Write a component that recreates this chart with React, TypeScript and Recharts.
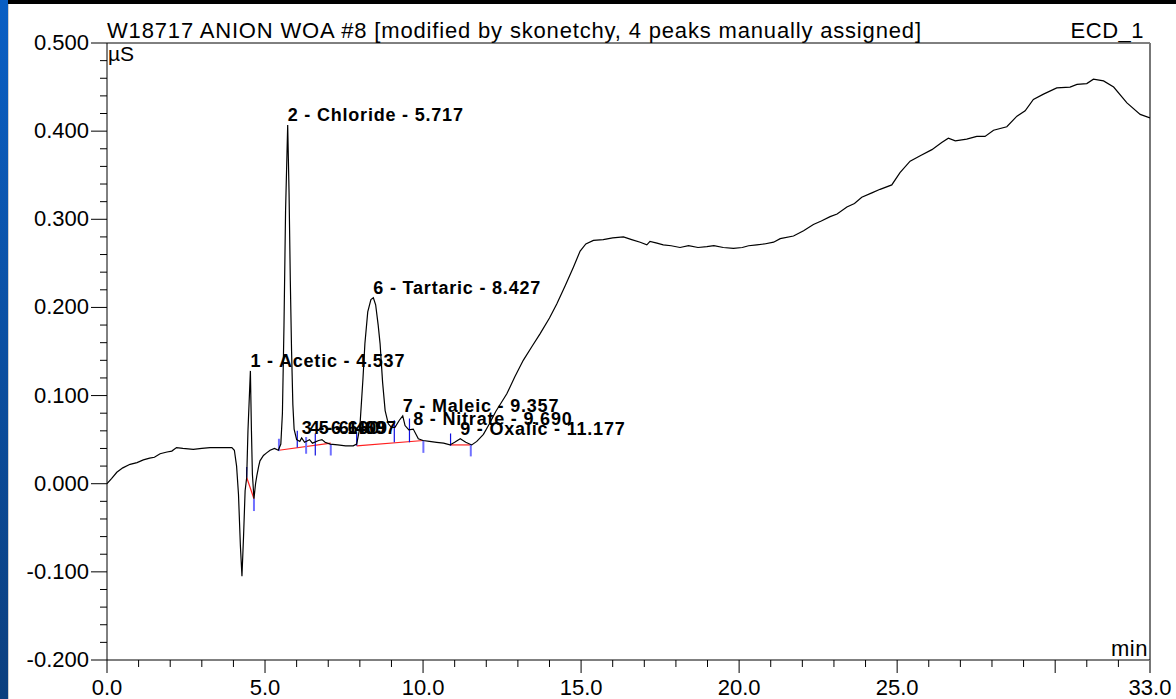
import React from "react";
import {
  ComposedChart,
  Line,
  Scatter,
  XAxis,
  YAxis,
  ReferenceLine,
} from "recharts";

// Chromatogram trace: retention time (min) and conductivity (µS)
const times: number[] = [
  0.0, 0.15, 0.31, 0.5, 0.73, 0.95, 1.15, 1.35, 1.5, 1.68, 1.9, 2.05, 2.2, 2.4, 2.73, 3.0, 3.26, 3.6, 3.95,
  4.03, 4.1, 4.16, 4.22, 4.27, 4.32, 4.37, 4.42, 4.46, 4.537, 4.57, 4.6, 4.65, 4.7, 4.74, 4.8, 4.84, 4.95,
  5.05, 5.16, 5.3, 5.42, 5.5, 5.55, 5.6, 5.65, 5.717, 5.76, 5.8, 5.84, 5.88, 5.92, 6.0, 6.1, 6.16, 6.25,
  6.409, 6.5, 6.697, 6.8, 6.9, 7.06, 7.3, 7.55, 7.79, 7.9, 8.0, 8.1, 8.16, 8.25, 8.35, 8.427, 8.5, 8.58, 8.64,
  8.72, 8.8, 8.9, 9.0, 9.11, 9.25, 9.357, 9.43, 9.55, 9.69, 9.85, 10.0, 10.2, 10.43, 10.65, 10.85, 11.0,
  11.177, 11.35, 11.54, 11.7, 11.91, 12.1, 12.3, 12.65, 12.9, 13.17, 13.45, 13.7, 14.0, 14.23, 14.5, 14.76,
  14.97, 15.15, 15.39, 15.7, 16.0, 16.34, 16.6, 16.87, 17.08, 17.18, 17.4, 17.6, 17.85, 18.13, 18.4, 18.7,
  18.98, 19.2, 19.5, 19.82, 20.1, 20.3, 20.56, 20.8, 21.09, 21.3, 21.72, 22.04, 22.35, 22.6, 22.88, 23.1,
  23.41, 23.65, 23.88, 24.2, 24.46, 24.83, 25.09, 25.41, 25.73, 26.1, 26.41, 26.62, 26.84, 27.2, 27.52,
  27.78, 28.05, 28.47, 28.79, 29.05, 29.31, 29.63, 30.05, 30.47, 30.69, 31.0, 31.21, 31.53, 31.85, 32.27,
  32.69, 33.0,
];
const signal: number[] = [
  0.0, 0.006, 0.013, 0.018, 0.022, 0.024, 0.027, 0.029, 0.03, 0.034, 0.036, 0.037, 0.041, 0.04, 0.039, 0.04,
  0.041, 0.041, 0.041, 0.038, 0.02, -0.012, -0.07, -0.105, -0.06, -0.008, 0.007, 0.06, 0.128, 0.06, 0.011,
  -0.017, 0.0, 0.009, 0.02, 0.026, 0.032, 0.035, 0.038, 0.04, 0.038, 0.045, 0.08, 0.18, 0.31, 0.407, 0.33,
  0.23, 0.15, 0.09, 0.062, 0.05, 0.048, 0.052, 0.047, 0.05, 0.046, 0.049, 0.05, 0.047, 0.045, 0.044, 0.043,
  0.043, 0.045, 0.064, 0.12, 0.159, 0.195, 0.209, 0.211, 0.203, 0.18, 0.159, 0.115, 0.083, 0.068, 0.064,
  0.064, 0.072, 0.077, 0.066, 0.061, 0.062, 0.051, 0.049, 0.048, 0.047, 0.046, 0.044, 0.047, 0.051, 0.047,
  0.044, 0.048, 0.056, 0.068, 0.082, 0.102, 0.121, 0.14, 0.156, 0.17, 0.188, 0.204, 0.225, 0.246, 0.264,
  0.272, 0.276, 0.277, 0.279, 0.28, 0.277, 0.274, 0.271, 0.275, 0.273, 0.271, 0.27, 0.268, 0.27, 0.268,
  0.269, 0.27, 0.268, 0.267, 0.268, 0.27, 0.271, 0.272, 0.274, 0.278, 0.281, 0.287, 0.294, 0.298, 0.303,
  0.306, 0.314, 0.318, 0.325, 0.33, 0.334, 0.339, 0.353, 0.366, 0.372, 0.379, 0.387, 0.392, 0.389, 0.391,
  0.394, 0.394, 0.401, 0.405, 0.417, 0.423, 0.436, 0.442, 0.449, 0.45, 0.453, 0.454, 0.459, 0.457, 0.45,
  0.432, 0.419, 0.415,
];

// Peak labels (retention time, apex value)
const peakTimes: number[] = [4.537, 5.717, 6.16, 6.409, 6.697, 8.427, 9.357, 9.69, 11.177];
const peakValues: number[] = [0.128, 0.407, 0.052, 0.052, 0.052, 0.211, 0.077, 0.062, 0.051];
const peakLabels: string[] = [
  "1 - Acetic - 4.537",
  "2 - Chloride - 5.717",
  "3 - 6.160",
  "4 - 6.409",
  "5 - 6.697",
  "6 - Tartaric - 8.427",
  "7 - Maleic - 9.357",
  "8 - Nitrate - 9.690",
  "9 - Oxalic - 11.177",
];

// Integration baselines
const baseStartT: number[] = [4.42, 5.44, 7.9, 10.87];
const baseStartV: number[] = [0.007, 0.038, 0.043, 0.044];
const baseEndT: number[] = [4.65, 7.08, 10.01, 11.51];
const baseEndV: number[] = [-0.017, 0.046, 0.049, 0.044];

// Peak delimiter marks
const markT: number[] = [4.42, 4.65, 5.44, 6.02, 6.3, 6.59, 7.08, 7.9, 9.09, 9.57, 10.01, 10.87, 11.51];
const markLow: number[] = [0.007, -0.031, 0.037, 0.041, 0.034, 0.032, 0.032, 0.043, 0.047, 0.047, 0.035, 0.043, 0.031];
const markHigh: number[] = [0.019, -0.017, 0.051, 0.06, 0.053, 0.057, 0.045, 0.057, 0.072, 0.074, 0.049, 0.057, 0.045];
const markKind: string[] = ["s", "e", "e", "s", "e", "s", "e", "s", "s", "s", "e", "s", "e"];

const xTicks: number[] = Array.from({ length: 34 }, (_, i) => i);
const xLabeled: number[] = [0, 5, 10, 15, 20, 25, 33];
const xMajor: number[] = [0, 5, 10, 15, 20, 25, 30, 33];
const yTicks: number[] = Array.from({ length: 36 }, (_, i) => Math.round(i * 2 - 20) / 100);

const TITLE = "W18717 ANION WOA #8 [modified by skonetchy, 4 peaks manually assigned]";
const CHANNEL = "ECD_1";
const Y_UNIT = "µS";
const X_UNIT = "min";

const curve = times.map((t, i) => ({ t, v: signal[i] }));
const peaks = peakTimes.map((t, i) => ({ t, v: peakValues[i], label: peakLabels[i] }));

const FONT = "'Liberation Sans', Arial, sans-serif";

const XTick = (props: any) => {
  const { x, y, payload } = props;
  const val = payload.value;
  const major = xMajor.includes(val);
  const labeled = xLabeled.includes(val);
  const isEnd = val === 33;
  return (
    <g>
      <line x1={x} y1={y} x2={x} y2={y + (major ? 13 : 7)} stroke={isEnd ? "#777" : "#000"} strokeWidth={isEnd ? 2 : 1} />
      {labeled && (
        <text x={x} y={y + 35} textAnchor="middle" fontSize={22} fontFamily={FONT} fill="#000">
          {val.toFixed(1)}
        </text>
      )}
    </g>
  );
};

const YTick = (props: any) => {
  const { x, y, payload } = props;
  const val = payload.value;
  const major = Math.abs(Math.round(val * 100) % 10) === 0;
  return (
    <g>
      <line x1={x - (major ? 16 : 7)} y1={y} x2={x} y2={y} stroke="#000" strokeWidth={1} />
      {major && (
        <text x={x - 18} y={y + 7} textAnchor="end" fontSize={22} fontFamily={FONT} fill="#000">
          {val.toFixed(3)}
        </text>
      )}
    </g>
  );
};

const PeakLabel = (props: any) => {
  const { cx, cy, payload } = props;
  return (
    <text x={cx} y={cy - 4} fontSize={18} fontWeight="bold" letterSpacing={0.8} fontFamily={FONT} fill="#000">
      {payload.label}
    </text>
  );
};

export default function App() {
  return (
    <div style={{ position: "absolute", left: 0, top: 0, width: 1176, height: 699, background: "#fff", overflow: "hidden" }}>
      <div style={{ position: "absolute", left: 0, top: 0, width: 1176, height: 4, background: "#000" }} />
      <div
        style={{
          position: "absolute",
          left: 0,
          top: 0,
          width: 8,
          height: 699,
          background: "linear-gradient(to bottom, #0a5fc4, #0c3f7e)",
        }}
      />
      <div style={{ position: "absolute", left: 8, top: 4, width: 1, height: 695, background: "#d0d0d0" }} />
      <div style={{ position: "absolute", left: 0, top: 0 }}>
        <ComposedChart
          width={1176}
          height={699}
          data={curve}
          margin={{ top: 43, right: 26, bottom: 0, left: 0 }}
        >
          <XAxis
            dataKey="t"
            type="number"
            domain={[0, 33]}
            ticks={xTicks}
            interval={0}
            tick={<XTick />}
            tickLine={false}
            tickSize={0}
            tickMargin={0}
            height={39}
            axisLine={{ stroke: "#000", strokeWidth: 1 }}
            allowDataOverflow
          />
          <YAxis
            type="number"
            domain={[-0.2, 0.5]}
            ticks={yTicks}
            interval={0}
            tick={<YTick />}
            tickLine={false}
            tickSize={0}
            tickMargin={0}
            width={107}
            axisLine={{ stroke: "#000", strokeWidth: 1 }}
            allowDataOverflow
          />
          <ReferenceLine y={0.5} stroke="#000" strokeWidth={1} />
          <ReferenceLine x={33} stroke="#777" strokeWidth={2} />
          {baseStartT.map((t, i) => (
            <ReferenceLine
              key={"b" + i}
              segment={[
                { x: t, y: baseStartV[i] },
                { x: baseEndT[i], y: baseEndV[i] },
              ]}
              stroke="#ff2020"
              strokeWidth={1.2}
            />
          ))}
          {markT.map((t, i) => (
            <ReferenceLine
              key={"m" + i}
              segment={[
                { x: t, y: markLow[i] },
                { x: t, y: markHigh[i] },
              ]}
              stroke={markKind[i] === "s" ? "#1010e0" : "#7070ff"}
              strokeWidth={markKind[i] === "s" ? 1.2 : 2}
            />
          ))}
          <Line
            dataKey="v"
            type="linear"
            stroke="#000"
            strokeWidth={1.2}
            dot={false}
            activeDot={false}
            isAnimationActive={false}
          />
          <Scatter data={peaks} dataKey="v" shape={<PeakLabel />} isAnimationActive={false} />
        </ComposedChart>
      </div>
      <svg width={1176} height={699} style={{ position: "absolute", left: 0, top: 0, pointerEvents: "none" }}>
        <text x={107} y={38} fontSize={22} fontFamily={FONT} fill="#000" textLength={814} lengthAdjust="spacing">{TITLE}</text>
        <text x={1144} y={38} fontSize={22} fontFamily={FONT} fill="#000" textAnchor="end" letterSpacing={0.5}>{CHANNEL}</text>
        <text x={108} y={61} fontSize={21} fontFamily={FONT} fill="#000">{Y_UNIT}</text>
        <text x={1148} y={656} fontSize={22} fontFamily={FONT} fill="#000" textAnchor="end" letterSpacing={0.5}>{X_UNIT}</text>
      </svg>
    </div>
  );
}
